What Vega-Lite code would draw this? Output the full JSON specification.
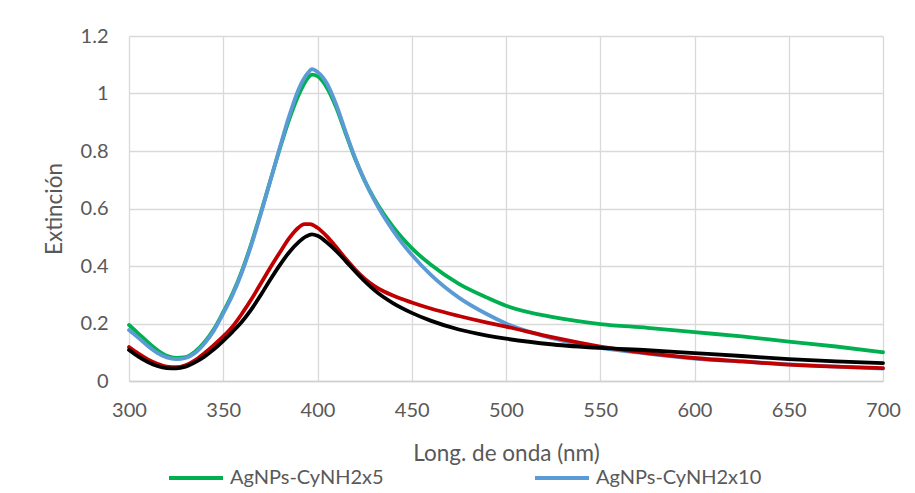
{
  "$schema": "https://vega.github.io/schema/vega-lite/v6.json",
  "width": 754,
  "height": 345,
  "autosize": {"type": "none"},
  "padding": {"left": 129, "top": 36, "right": 32, "bottom": 112},
  "background": "white",
  "config": {
    "font": "Lato",
    "view": {"stroke": null},
    "axis": {
      "labelFont": "Lato",
      "titleFont": "Lato",
      "labelColor": "#595959",
      "titleColor": "#595959",
      "labelFontSize": 20,
      "titleFontSize": 22.5,
      "titleFontWeight": "normal",
      "gridColor": "#D9D9D9",
      "gridWidth": 1.3,
      "domainColor": "#D0D0D0",
      "domainWidth": 1.3,
      "ticks": false
    },
    "legend": {
      "labelFont": "Lato",
      "labelFontSize": 20,
      "labelColor": "#595959",
      "labelLimit": 400
    }
  },
  "data": {
    "values": [
      {"nm": 300, "ext": 0.195, "serie": "AgNPs-CyNH2x5"},
      {"nm": 305, "ext": 0.165, "serie": "AgNPs-CyNH2x5"},
      {"nm": 310, "ext": 0.135, "serie": "AgNPs-CyNH2x5"},
      {"nm": 315, "ext": 0.108, "serie": "AgNPs-CyNH2x5"},
      {"nm": 320, "ext": 0.088, "serie": "AgNPs-CyNH2x5"},
      {"nm": 325, "ext": 0.080, "serie": "AgNPs-CyNH2x5"},
      {"nm": 330, "ext": 0.083, "serie": "AgNPs-CyNH2x5"},
      {"nm": 335, "ext": 0.102, "serie": "AgNPs-CyNH2x5"},
      {"nm": 340, "ext": 0.135, "serie": "AgNPs-CyNH2x5"},
      {"nm": 345, "ext": 0.180, "serie": "AgNPs-CyNH2x5"},
      {"nm": 350, "ext": 0.240, "serie": "AgNPs-CyNH2x5"},
      {"nm": 355, "ext": 0.305, "serie": "AgNPs-CyNH2x5"},
      {"nm": 360, "ext": 0.385, "serie": "AgNPs-CyNH2x5"},
      {"nm": 365, "ext": 0.480, "serie": "AgNPs-CyNH2x5"},
      {"nm": 370, "ext": 0.587, "serie": "AgNPs-CyNH2x5"},
      {"nm": 375, "ext": 0.698, "serie": "AgNPs-CyNH2x5"},
      {"nm": 380, "ext": 0.808, "serie": "AgNPs-CyNH2x5"},
      {"nm": 385, "ext": 0.910, "serie": "AgNPs-CyNH2x5"},
      {"nm": 390, "ext": 0.995, "serie": "AgNPs-CyNH2x5"},
      {"nm": 395, "ext": 1.055, "serie": "AgNPs-CyNH2x5"},
      {"nm": 397, "ext": 1.066, "serie": "AgNPs-CyNH2x5"},
      {"nm": 400, "ext": 1.060, "serie": "AgNPs-CyNH2x5"},
      {"nm": 405, "ext": 1.020, "serie": "AgNPs-CyNH2x5"},
      {"nm": 410, "ext": 0.950, "serie": "AgNPs-CyNH2x5"},
      {"nm": 415, "ext": 0.860, "serie": "AgNPs-CyNH2x5"},
      {"nm": 420, "ext": 0.772, "serie": "AgNPs-CyNH2x5"},
      {"nm": 425, "ext": 0.697, "serie": "AgNPs-CyNH2x5"},
      {"nm": 430, "ext": 0.635, "serie": "AgNPs-CyNH2x5"},
      {"nm": 435, "ext": 0.582, "serie": "AgNPs-CyNH2x5"},
      {"nm": 440, "ext": 0.537, "serie": "AgNPs-CyNH2x5"},
      {"nm": 445, "ext": 0.497, "serie": "AgNPs-CyNH2x5"},
      {"nm": 450, "ext": 0.462, "serie": "AgNPs-CyNH2x5"},
      {"nm": 460, "ext": 0.405, "serie": "AgNPs-CyNH2x5"},
      {"nm": 475, "ext": 0.338, "serie": "AgNPs-CyNH2x5"},
      {"nm": 490, "ext": 0.290, "serie": "AgNPs-CyNH2x5"},
      {"nm": 500, "ext": 0.262, "serie": "AgNPs-CyNH2x5"},
      {"nm": 525, "ext": 0.222, "serie": "AgNPs-CyNH2x5"},
      {"nm": 550, "ext": 0.198, "serie": "AgNPs-CyNH2x5"},
      {"nm": 575, "ext": 0.185, "serie": "AgNPs-CyNH2x5"},
      {"nm": 600, "ext": 0.170, "serie": "AgNPs-CyNH2x5"},
      {"nm": 625, "ext": 0.155, "serie": "AgNPs-CyNH2x5"},
      {"nm": 650, "ext": 0.137, "serie": "AgNPs-CyNH2x5"},
      {"nm": 675, "ext": 0.120, "serie": "AgNPs-CyNH2x5"},
      {"nm": 700, "ext": 0.100, "serie": "AgNPs-CyNH2x5"},

      {"nm": 300, "ext": 0.177, "serie": "AgNPs-CyNH2x10"},
      {"nm": 305, "ext": 0.150, "serie": "AgNPs-CyNH2x10"},
      {"nm": 310, "ext": 0.122, "serie": "AgNPs-CyNH2x10"},
      {"nm": 315, "ext": 0.098, "serie": "AgNPs-CyNH2x10"},
      {"nm": 320, "ext": 0.082, "serie": "AgNPs-CyNH2x10"},
      {"nm": 325, "ext": 0.076, "serie": "AgNPs-CyNH2x10"},
      {"nm": 330, "ext": 0.080, "serie": "AgNPs-CyNH2x10"},
      {"nm": 335, "ext": 0.097, "serie": "AgNPs-CyNH2x10"},
      {"nm": 340, "ext": 0.130, "serie": "AgNPs-CyNH2x10"},
      {"nm": 345, "ext": 0.175, "serie": "AgNPs-CyNH2x10"},
      {"nm": 350, "ext": 0.235, "serie": "AgNPs-CyNH2x10"},
      {"nm": 355, "ext": 0.300, "serie": "AgNPs-CyNH2x10"},
      {"nm": 360, "ext": 0.380, "serie": "AgNPs-CyNH2x10"},
      {"nm": 365, "ext": 0.475, "serie": "AgNPs-CyNH2x10"},
      {"nm": 370, "ext": 0.583, "serie": "AgNPs-CyNH2x10"},
      {"nm": 375, "ext": 0.697, "serie": "AgNPs-CyNH2x10"},
      {"nm": 380, "ext": 0.812, "serie": "AgNPs-CyNH2x10"},
      {"nm": 385, "ext": 0.922, "serie": "AgNPs-CyNH2x10"},
      {"nm": 390, "ext": 1.015, "serie": "AgNPs-CyNH2x10"},
      {"nm": 395, "ext": 1.072, "serie": "AgNPs-CyNH2x10"},
      {"nm": 397, "ext": 1.085, "serie": "AgNPs-CyNH2x10"},
      {"nm": 400, "ext": 1.075, "serie": "AgNPs-CyNH2x10"},
      {"nm": 405, "ext": 1.035, "serie": "AgNPs-CyNH2x10"},
      {"nm": 410, "ext": 0.960, "serie": "AgNPs-CyNH2x10"},
      {"nm": 415, "ext": 0.865, "serie": "AgNPs-CyNH2x10"},
      {"nm": 420, "ext": 0.775, "serie": "AgNPs-CyNH2x10"},
      {"nm": 425, "ext": 0.697, "serie": "AgNPs-CyNH2x10"},
      {"nm": 430, "ext": 0.631, "serie": "AgNPs-CyNH2x10"},
      {"nm": 435, "ext": 0.574, "serie": "AgNPs-CyNH2x10"},
      {"nm": 440, "ext": 0.524, "serie": "AgNPs-CyNH2x10"},
      {"nm": 445, "ext": 0.479, "serie": "AgNPs-CyNH2x10"},
      {"nm": 450, "ext": 0.439, "serie": "AgNPs-CyNH2x10"},
      {"nm": 460, "ext": 0.370, "serie": "AgNPs-CyNH2x10"},
      {"nm": 475, "ext": 0.290, "serie": "AgNPs-CyNH2x10"},
      {"nm": 490, "ext": 0.232, "serie": "AgNPs-CyNH2x10"},
      {"nm": 500, "ext": 0.200, "serie": "AgNPs-CyNH2x10"},
      {"nm": 525, "ext": 0.148, "serie": "AgNPs-CyNH2x10"},
      {"nm": 550, "ext": 0.115, "serie": "AgNPs-CyNH2x10"},
      {"nm": 575, "ext": 0.095, "serie": "AgNPs-CyNH2x10"},
      {"nm": 600, "ext": 0.078, "serie": "AgNPs-CyNH2x10"},
      {"nm": 625, "ext": 0.068, "serie": "AgNPs-CyNH2x10"},
      {"nm": 650, "ext": 0.058, "serie": "AgNPs-CyNH2x10"},
      {"nm": 675, "ext": 0.050, "serie": "AgNPs-CyNH2x10"},
      {"nm": 700, "ext": 0.043, "serie": "AgNPs-CyNH2x10"},

      {"nm": 300, "ext": 0.118, "serie": "AgNPs-CyNH2x1"},
      {"nm": 305, "ext": 0.095, "serie": "AgNPs-CyNH2x1"},
      {"nm": 310, "ext": 0.075, "serie": "AgNPs-CyNH2x1"},
      {"nm": 315, "ext": 0.060, "serie": "AgNPs-CyNH2x1"},
      {"nm": 320, "ext": 0.050, "serie": "AgNPs-CyNH2x1"},
      {"nm": 325, "ext": 0.048, "serie": "AgNPs-CyNH2x1"},
      {"nm": 330, "ext": 0.055, "serie": "AgNPs-CyNH2x1"},
      {"nm": 335, "ext": 0.072, "serie": "AgNPs-CyNH2x1"},
      {"nm": 340, "ext": 0.097, "serie": "AgNPs-CyNH2x1"},
      {"nm": 345, "ext": 0.125, "serie": "AgNPs-CyNH2x1"},
      {"nm": 350, "ext": 0.155, "serie": "AgNPs-CyNH2x1"},
      {"nm": 355, "ext": 0.190, "serie": "AgNPs-CyNH2x1"},
      {"nm": 360, "ext": 0.235, "serie": "AgNPs-CyNH2x1"},
      {"nm": 365, "ext": 0.285, "serie": "AgNPs-CyNH2x1"},
      {"nm": 370, "ext": 0.340, "serie": "AgNPs-CyNH2x1"},
      {"nm": 375, "ext": 0.395, "serie": "AgNPs-CyNH2x1"},
      {"nm": 380, "ext": 0.447, "serie": "AgNPs-CyNH2x1"},
      {"nm": 385, "ext": 0.497, "serie": "AgNPs-CyNH2x1"},
      {"nm": 390, "ext": 0.534, "serie": "AgNPs-CyNH2x1"},
      {"nm": 393, "ext": 0.546, "serie": "AgNPs-CyNH2x1"},
      {"nm": 396, "ext": 0.546, "serie": "AgNPs-CyNH2x1"},
      {"nm": 400, "ext": 0.533, "serie": "AgNPs-CyNH2x1"},
      {"nm": 405, "ext": 0.503, "serie": "AgNPs-CyNH2x1"},
      {"nm": 410, "ext": 0.465, "serie": "AgNPs-CyNH2x1"},
      {"nm": 415, "ext": 0.425, "serie": "AgNPs-CyNH2x1"},
      {"nm": 420, "ext": 0.388, "serie": "AgNPs-CyNH2x1"},
      {"nm": 425, "ext": 0.356, "serie": "AgNPs-CyNH2x1"},
      {"nm": 430, "ext": 0.331, "serie": "AgNPs-CyNH2x1"},
      {"nm": 435, "ext": 0.312, "serie": "AgNPs-CyNH2x1"},
      {"nm": 440, "ext": 0.297, "serie": "AgNPs-CyNH2x1"},
      {"nm": 450, "ext": 0.273, "serie": "AgNPs-CyNH2x1"},
      {"nm": 460, "ext": 0.252, "serie": "AgNPs-CyNH2x1"},
      {"nm": 475, "ext": 0.226, "serie": "AgNPs-CyNH2x1"},
      {"nm": 490, "ext": 0.203, "serie": "AgNPs-CyNH2x1"},
      {"nm": 500, "ext": 0.189, "serie": "AgNPs-CyNH2x1"},
      {"nm": 525, "ext": 0.152, "serie": "AgNPs-CyNH2x1"},
      {"nm": 550, "ext": 0.120, "serie": "AgNPs-CyNH2x1"},
      {"nm": 575, "ext": 0.097, "serie": "AgNPs-CyNH2x1"},
      {"nm": 600, "ext": 0.080, "serie": "AgNPs-CyNH2x1"},
      {"nm": 625, "ext": 0.068, "serie": "AgNPs-CyNH2x1"},
      {"nm": 650, "ext": 0.057, "serie": "AgNPs-CyNH2x1"},
      {"nm": 675, "ext": 0.050, "serie": "AgNPs-CyNH2x1"},
      {"nm": 700, "ext": 0.045, "serie": "AgNPs-CyNH2x1"},

      {"nm": 300, "ext": 0.108, "serie": "AgNPs"},
      {"nm": 305, "ext": 0.085, "serie": "AgNPs"},
      {"nm": 310, "ext": 0.066, "serie": "AgNPs"},
      {"nm": 315, "ext": 0.052, "serie": "AgNPs"},
      {"nm": 320, "ext": 0.045, "serie": "AgNPs"},
      {"nm": 325, "ext": 0.044, "serie": "AgNPs"},
      {"nm": 330, "ext": 0.050, "serie": "AgNPs"},
      {"nm": 335, "ext": 0.065, "serie": "AgNPs"},
      {"nm": 340, "ext": 0.085, "serie": "AgNPs"},
      {"nm": 345, "ext": 0.110, "serie": "AgNPs"},
      {"nm": 350, "ext": 0.140, "serie": "AgNPs"},
      {"nm": 355, "ext": 0.172, "serie": "AgNPs"},
      {"nm": 360, "ext": 0.207, "serie": "AgNPs"},
      {"nm": 365, "ext": 0.250, "serie": "AgNPs"},
      {"nm": 370, "ext": 0.300, "serie": "AgNPs"},
      {"nm": 375, "ext": 0.353, "serie": "AgNPs"},
      {"nm": 380, "ext": 0.403, "serie": "AgNPs"},
      {"nm": 385, "ext": 0.448, "serie": "AgNPs"},
      {"nm": 390, "ext": 0.483, "serie": "AgNPs"},
      {"nm": 394, "ext": 0.503, "serie": "AgNPs"},
      {"nm": 397, "ext": 0.510, "serie": "AgNPs"},
      {"nm": 400, "ext": 0.505, "serie": "AgNPs"},
      {"nm": 405, "ext": 0.482, "serie": "AgNPs"},
      {"nm": 410, "ext": 0.452, "serie": "AgNPs"},
      {"nm": 415, "ext": 0.417, "serie": "AgNPs"},
      {"nm": 420, "ext": 0.381, "serie": "AgNPs"},
      {"nm": 425, "ext": 0.347, "serie": "AgNPs"},
      {"nm": 430, "ext": 0.317, "serie": "AgNPs"},
      {"nm": 435, "ext": 0.292, "serie": "AgNPs"},
      {"nm": 440, "ext": 0.271, "serie": "AgNPs"},
      {"nm": 450, "ext": 0.237, "serie": "AgNPs"},
      {"nm": 460, "ext": 0.210, "serie": "AgNPs"},
      {"nm": 475, "ext": 0.179, "serie": "AgNPs"},
      {"nm": 490, "ext": 0.158, "serie": "AgNPs"},
      {"nm": 500, "ext": 0.147, "serie": "AgNPs"},
      {"nm": 525, "ext": 0.127, "serie": "AgNPs"},
      {"nm": 550, "ext": 0.115, "serie": "AgNPs"},
      {"nm": 575, "ext": 0.107, "serie": "AgNPs"},
      {"nm": 600, "ext": 0.097, "serie": "AgNPs"},
      {"nm": 625, "ext": 0.087, "serie": "AgNPs"},
      {"nm": 650, "ext": 0.076, "serie": "AgNPs"},
      {"nm": 675, "ext": 0.068, "serie": "AgNPs"},
      {"nm": 700, "ext": 0.062, "serie": "AgNPs"}
    ]
  },
  "encoding": {
    "x": {
      "field": "nm",
      "type": "quantitative",
      "scale": {"domain": [300, 700], "nice": false, "zero": false},
      "axis": {
        "title": "Long. de onda (nm)",
        "values": [300, 350, 400, 450, 500, 550, 600, 650, 700],
        "labelPadding": 19,
        "titlePadding": 22,
        "labelFlush": false
      }
    },
    "y": {
      "field": "ext",
      "type": "quantitative",
      "scale": {"domain": [0, 1.2], "nice": false},
      "axis": {
        "title": "Extinción",
        "values": [0, 0.2, 0.4, 0.6, 0.8, 1, 1.2],
        "format": "~g",
        "labelPadding": 21,
        "titlePadding": 14,
        "labelFlush": false,
        "domain": false
      }
    },
    "color": {
      "field": "serie",
      "type": "nominal",
      "scale": {
        "domain": ["AgNPs-CyNH2x5", "AgNPs-CyNH2x10", "AgNPs-CyNH2x1", "AgNPs"],
        "range": ["#00B050", "#5B9BD5", "#C00000", "#000000"]
      },
      "legend": {
        "title": null,
        "values": ["AgNPs-CyNH2x5", "AgNPs-CyNH2x10"],
        "orient": "none",
        "legendX": 38,
        "legendY": 413,
        "direction": "horizontal",
        "columns": 2,
        "symbolType": "stroke",
        "symbolSize": 2916,
        "symbolStrokeWidth": 4,
        "labelOffset": 5,
        "labelLimit": 400,
        "columnPadding": 143
      }
    }
  },
  "layer": [
    {"transform": [{"filter": "datum.serie === 'AgNPs-CyNH2x5'"}], "mark": {"type": "line", "interpolate": "monotone", "strokeWidth": 3.8, "strokeCap": "round"}},
    {"transform": [{"filter": "datum.serie === 'AgNPs-CyNH2x10'"}], "mark": {"type": "line", "interpolate": "monotone", "strokeWidth": 3.8, "strokeCap": "round"}},
    {"transform": [{"filter": "datum.serie === 'AgNPs-CyNH2x1'"}], "mark": {"type": "line", "interpolate": "monotone", "strokeWidth": 3.8, "strokeCap": "round"}},
    {"transform": [{"filter": "datum.serie === 'AgNPs'"}], "mark": {"type": "line", "interpolate": "monotone", "strokeWidth": 3.8, "strokeCap": "round"}}
  ]
}
